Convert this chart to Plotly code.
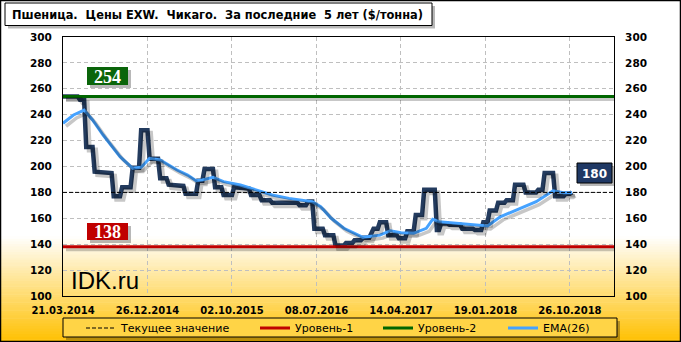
import numpy as np
import pandas as pd
import plotly.graph_objects as go

# ---------------- data ----------------
START = "2014-03-21"
END = "2019-03-21"
# wheat EXW Chicago, $/t : weeks since 21.03.2014 and values
price_weeks = [0, 7, 8, 10, 11, 14, 15, 23, 24, 27,
               28, 32, 33, 36, 37, 40, 41, 45, 46, 49,
               50, 57, 58, 63, 64, 66, 67, 71, 72, 75,
               76, 80, 81, 88, 89, 93, 94, 98, 99, 111,
               112, 115, 116, 118, 119, 123, 124, 128, 129, 133,
               134, 137, 138, 141, 142, 145, 147, 149, 150, 153,
               154, 158, 159, 162, 163, 166, 167, 170, 171, 176,
               177, 178, 179, 182, 183, 188, 189, 194, 195, 198,
               199, 201, 202, 205, 206, 209, 210, 213, 214, 218,
               219, 224, 225, 227, 228, 232, 233, 237, 238, 240,
               241]
price_values = [254, 254, 251.5, 251.5, 215, 215, 196, 195, 177, 177,
                184, 184, 199, 199, 228, 228, 206, 206, 191, 191,
                186, 185, 179, 179, 189, 189, 198, 198, 184, 184,
                178, 178, 184, 183, 178, 178, 174, 174, 172, 172,
                170, 170, 173, 173, 152, 152, 147, 147, 139, 139,
                141, 141, 143, 143, 145, 145, 152, 152, 157, 157,
                147, 147, 144.5, 144.5, 150, 150, 162.5, 162.5, 182, 182,
                151, 151, 156, 156, 155, 155, 152, 152, 151, 151,
                157, 157, 166, 166, 172, 172, 174, 174, 186, 186,
                180, 180, 182, 182, 195, 195, 177, 177, 179, 179,
                180]
ema_weeks = [0, 5, 10, 14, 19, 27, 33, 37, 41, 46,
             54, 59, 63, 66, 71, 76, 84, 92, 99, 107,
             118, 122, 127, 133, 142, 150, 155, 160, 166, 172,
             175, 178, 188, 193, 201, 207, 215, 224, 232, 237,
             241]
ema_values = [233.4, 239.8, 243.6, 235.9, 224.3, 207.6, 198.6, 199.4, 206.3, 205,
              197.3, 193.4, 189, 189.6, 191.7, 188.3, 185.7, 181.9, 178, 175.4,
              172.8, 169, 160, 152.3, 145.3, 147, 150.4, 148.9, 148.4, 152.3,
              159.2, 157.4, 156.1, 155.6, 154.1, 161.2, 166.9, 172.8, 181.3, 179.8,
              179.8]
current_value = 180
level1 = 138
level2 = 254

title_text = "Пшеница.\u00a0 Цены EXW.\u00a0 Чикаго.\u00a0 За последние\u00a0 5 лет ($/тонна)"
legend_names = ["Текущее значение", "Уровень-1", "Уровень-2", "EMA(26)"]

# ---------------- build ----------------
start = pd.Timestamp(START)
px_dates = start + pd.to_timedelta(np.array(price_weeks) * 7, unit="D")
ema_dates = start + pd.to_timedelta(np.array(ema_weeks) * 7, unit="D")

W, H = 681, 342
L, R, T, B = 63, 614, 37, 296
PW, PH = R - L, B - T


def fx(x):
    return (x - L) / PW


def fy(y):
    return (B - y) / PH


FONT = "DejaVu Sans"
SH = "rgba(0,0,0,0.22)"
fig = go.Figure()

# soft drop shadows (same series drawn on hidden axes offset by a few pixels)
for xs, ys, wd in [(px_dates, price_values, 5), (ema_dates, ema_values, 3.5),
                   ([START, END], [level1] * 2, 3), ([START, END], [level2] * 2, 3)]:
    fig.add_trace(go.Scatter(x=xs, y=ys, mode="lines", line=dict(color=SH, width=wd),
                             xaxis="x2", yaxis="y3", showlegend=False, hoverinfo="skip"))

fig.add_trace(go.Scatter(x=px_dates, y=price_values, mode="lines",
                         line=dict(color="#233B5E", width=4.5), showlegend=False,
                         hoverinfo="skip"))
fig.add_trace(go.Scatter(x=[START, END], y=[current_value] * 2, mode="lines", name=legend_names[0],
                         line=dict(color="black", width=1, dash="4px,2px"), yaxis="y2",
                         legend="legend"))
fig.add_trace(go.Scatter(x=[START, END], y=[level1] * 2, mode="lines", name=legend_names[1],
                         line=dict(color="#C00000", width=3), legend="legend2"))
fig.add_trace(go.Scatter(x=[START, END], y=[level2] * 2, mode="lines", name=legend_names[2],
                         line=dict(color="#006600", width=3), legend="legend3"))
fig.add_trace(go.Scatter(x=ema_dates, y=ema_values, mode="lines", name=legend_names[3],
                         line=dict(color="#45A2FF", width=3), legend="legend4"))

shapes = []
# background gradient
g0, g1 = 236, 342
n = 40
for i in range(n):
    y0 = g0 + (g1 - g0) * i / n
    y1 = g0 + (g1 - g0) * (i + 1) / n + 0.5
    t = (i + 0.5) / n
    col = "rgb(255,%d,%d)" % (round(255 - 63 * t), round(255 - 255 * t))
    shapes.append(dict(type="rect", xref="paper", yref="paper", x0=fx(0), x1=fx(W),
                       y0=fy(y0), y1=fy(y1), line=dict(width=0), fillcolor=col, layer="below"))


def box(x0, y0, x1, y1, fill, line_color=None, shadow=True, layer="above"):
    if shadow:
        shapes.append(dict(type="rect", xref="paper", yref="paper", x0=fx(x0 + 3), x1=fx(x1 + 3),
                           y0=fy(y0 + 3), y1=fy(y1 + 3), line=dict(width=0),
                           fillcolor="rgba(0,0,0,0.28)", layer=layer))
    shapes.append(dict(type="rect", xref="paper", yref="paper", x0=fx(x0), x1=fx(x1),
                       y0=fy(y0), y1=fy(y1),
                       line=dict(color=line_color or "rgba(0,0,0,0)", width=1 if line_color else 0),
                       fillcolor=fill, layer=layer))


# outer border
shapes.append(dict(type="rect", xref="paper", yref="paper", x0=fx(0.5), x1=fx(W - 0.5),
                   y0=fy(0.5), y1=fy(H - 0.5), line=dict(color="black", width=1.5),
                   fillcolor="rgba(0,0,0,0)", layer="above"))
box(5, 3, 432, 25.5, "white", "black")                  # title box
box(63, 318, 617, 337, "rgb(255,212,70)", "black", layer="below")   # legend box
box(87, 67, 128, 85, "#0A650A")                         # 254 label
box(87, 223, 128, 240, "#C00000")                       # 138 label
box(577, 163, 612, 183, "#1F3864", "black")             # 180 label

annotations = [
    dict(text="<b>" + title_text + "</b>", xref="paper", yref="paper", x=fx(10), y=fy(14.5),
         xanchor="left", yanchor="middle", showarrow=False,
         font=dict(family=FONT, size=11.4, color="black")),
    dict(text="IDK.ru", xref="paper", yref="paper", x=fx(69), y=fy(280),
         xanchor="left", yanchor="middle", showarrow=False,
         font=dict(family="Liberation Sans", size=24, color="black")),
    dict(text="<b>%d</b>" % level2, xref="paper", yref="paper", x=fx(107.5), y=fy(76.5),
         xanchor="center", yanchor="middle",
         showarrow=False, font=dict(family="Liberation Serif", size=18, color="white")),
    dict(text="<b>%d</b>" % level1, xref="paper", yref="paper", x=fx(107.5), y=fy(232),
         xanchor="center", yanchor="middle",
         showarrow=False, font=dict(family="Liberation Serif", size=18, color="white")),
    dict(text="<b>%d</b>" % current_value, xref="paper", yref="paper", x=fx(594.5), y=fy(173.5),
         xanchor="center", yanchor="middle",
         showarrow=False, font=dict(family=FONT, size=12, color="white")),
]

yax = dict(range=[100, 300], dtick=20, tick0=100,
           tickfont=dict(family=FONT, size=10.5, color="black", weight="bold"),
           ticks="outside", ticklen=8, tickcolor="rgba(0,0,0,0)", fixedrange=True)


def leg(xpx):
    return dict(orientation="h", xref="container", yref="container",
                x=xpx / W, xanchor="left", y=(H - 313.5) / H, yanchor="top",
                bgcolor="rgba(0,0,0,0)", borderwidth=0, itemwidth=30,
                font=dict(family=FONT, size=11, color="black"))


# shadow offset: 3 px right, 3 px down
dx_days = 3 / PW * (pd.Timestamp(END) - start).days
dy_val = 3 / PH * 200
sh_x0 = start - pd.Timedelta(days=dx_days)
sh_x1 = pd.Timestamp(END) - pd.Timedelta(days=dx_days)

fig.update_layout(
    width=W, height=H,
    margin=dict(l=L, r=W - R, t=T, b=H - B, pad=0),
    paper_bgcolor="white", plot_bgcolor="rgba(0,0,0,0)",
    showlegend=True,
    legend=leg(81), legend2=leg(255), legend3=leg(378), legend4=leg(503),
    xaxis=dict(type="date", range=[START, END], tick0=START, dtick=280 * 86400000,
               tickformat="%d.%m.%Y", showgrid=True, gridcolor="#BFBFBF", gridwidth=1,
               griddash="4px,3px", automargin=False,
               tickfont=dict(family=FONT, size=10, color="black", weight="bold"),
               ticks="outside", ticklen=5, tickcolor="rgba(0,0,0,0)",
               showline=True, mirror=True, linecolor="black", linewidth=1, zeroline=False),
    xaxis2=dict(type="date", overlaying="x", range=[sh_x0, sh_x1], visible=False,
                automargin=False),
    yaxis=dict(**yax, showgrid=True, gridcolor="#BFBFBF", gridwidth=1, griddash="4px,3px",
               showline=True, mirror=True, linecolor="black", linewidth=1, zeroline=False,
               automargin=False),
    yaxis2=dict(**yax, overlaying="y", side="right", showgrid=False, zeroline=False,
                showline=False, automargin=False),
    yaxis3=dict(overlaying="y", range=[100 + dy_val, 300 + dy_val], visible=False,
                automargin=False, fixedrange=True),
    shapes=shapes,
    annotations=annotations,
)

fig.write_html("out.html")
